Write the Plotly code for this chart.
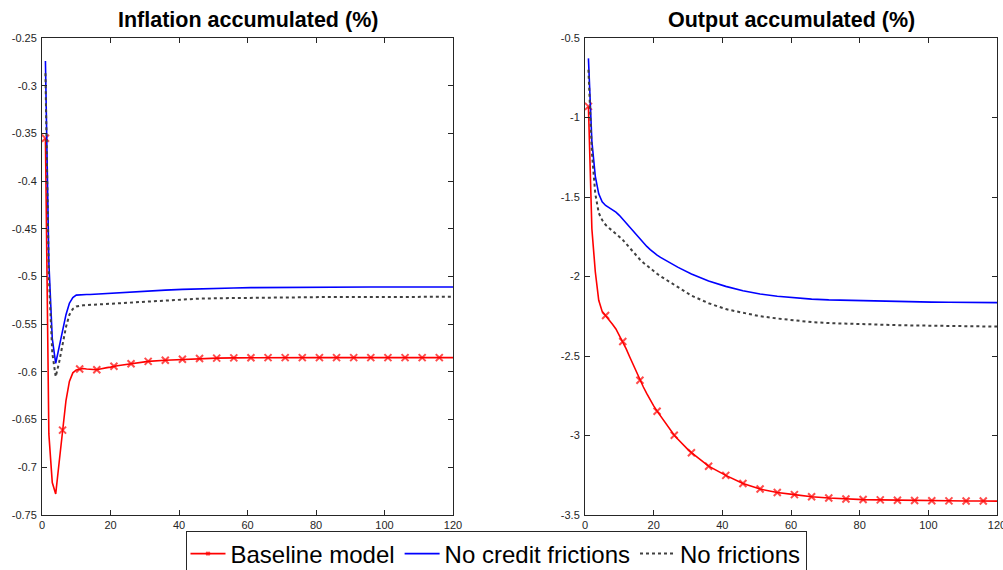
import plotly.graph_objects as go

periods = list(range(1, 31)) + list(range(31, 117, 5)) + [120]

infl_baseline = [-0.355, -0.665, -0.716, -0.728, -0.695, -0.661, -0.630, -0.610, -0.601, -0.598,
                 -0.597, -0.5965, -0.597, -0.5975, -0.5978, -0.5978, -0.597, -0.596, -0.5955, -0.595,
                 -0.594, -0.5935, -0.593, -0.5925, -0.592, -0.5915, -0.591, -0.5905, -0.590, -0.5895,
                 -0.589, -0.5878, -0.5868, -0.586, -0.5856, -0.5853, -0.5851, -0.585, -0.585, -0.585,
                 -0.585, -0.585, -0.585, -0.585, -0.585, -0.585, -0.585, -0.585, -0.585]
infl_nocredit = [-0.274, -0.485, -0.565, -0.591, -0.574, -0.556, -0.540, -0.528, -0.522, -0.5195,
                 -0.519, -0.5188, -0.5188, -0.5188, -0.5186, -0.5184, -0.518, -0.5177, -0.5173, -0.517,
                 -0.5168, -0.5166, -0.5164, -0.5162, -0.516, -0.5159, -0.5158, -0.5157, -0.5156, -0.5155,
                 -0.5153, -0.5143, -0.5135, -0.5128, -0.5123, -0.512, -0.5117, -0.5115, -0.5113, -0.5112,
                 -0.5111, -0.5111, -0.511, -0.511, -0.511, -0.511, -0.511, -0.511, -0.511]
infl_nofric = [-0.287, -0.50, -0.58, -0.605, -0.59, -0.571, -0.553, -0.540, -0.534, -0.5315,
               -0.5305, -0.5302, -0.530, -0.5298, -0.5296, -0.5294, -0.5292, -0.529, -0.5288, -0.5285,
               -0.5282, -0.528, -0.5278, -0.5276, -0.5274, -0.5272, -0.527, -0.5268, -0.5266, -0.5265,
               -0.5262, -0.525, -0.5238, -0.5232, -0.5228, -0.5225, -0.5222, -0.522, -0.5218, -0.5217,
               -0.5216, -0.5215, -0.5214, -0.5214, -0.5213, -0.5213, -0.5213, -0.5213, -0.5213]

out_baseline = [-0.93, -1.70, -1.97, -2.15, -2.22, -2.245, -2.27, -2.30, -2.33, -2.37,
                -2.409, -2.455, -2.505, -2.555, -2.605, -2.652, -2.695, -2.737, -2.777, -2.814,
                -2.847, -2.878, -2.910, -2.940, -2.970, -2.998, -3.022, -3.046, -3.068, -3.089,
                -3.108, -3.193, -3.251, -3.302, -3.337, -3.358, -3.372, -3.385, -3.393, -3.399,
                -3.403, -3.405, -3.407, -3.409, -3.41, -3.411, -3.412, -3.412, -3.413]
out_nocredit = [-0.628, -1.15, -1.37, -1.48, -1.53, -1.553, -1.567, -1.58, -1.595, -1.615,
                -1.64, -1.664, -1.69, -1.715, -1.74, -1.766, -1.789, -1.811, -1.831, -1.85,
                -1.866, -1.88, -1.893, -1.905, -1.918, -1.93, -1.941, -1.952, -1.963, -1.974,
                -1.984, -2.028, -2.062, -2.09, -2.11, -2.124, -2.134, -2.142, -2.147, -2.15,
                -2.153, -2.156, -2.158, -2.16, -2.161, -2.162, -2.163, -2.164, -2.164]
out_nofric = [-0.70, -1.22, -1.48, -1.60, -1.645, -1.675, -1.695, -1.712, -1.73, -1.75,
              -1.77, -1.795, -1.822, -1.848, -1.872, -1.893, -1.913, -1.932, -1.950, -1.967,
              -1.983, -1.998, -2.012, -2.026, -2.040, -2.053, -2.066, -2.08, -2.094, -2.107,
              -2.12, -2.168, -2.205, -2.228, -2.25, -2.264, -2.277, -2.287, -2.293, -2.297,
              -2.300, -2.303, -2.306, -2.308, -2.31, -2.312, -2.313, -2.314, -2.315]

series_names = ["Baseline model", "No credit frictions", "No frictions"]
titles = ["Inflation accumulated (%)", "Output accumulated (%)"]

x_ticks = [0, 20, 40, 60, 80, 100, 120]
infl_ticks = [-0.75, -0.7, -0.65, -0.6, -0.55, -0.5, -0.45, -0.4, -0.35, -0.3, -0.25]
infl_ticktext = ["-0.75", "-0.7", "-0.65", "-0.6", "-0.55", "-0.5", "-0.45", "-0.4", "-0.35", "-0.3", "-0.25"]
out_ticks = [-3.5, -3, -2.5, -2, -1.5, -1, -0.5]
out_ticktext = ["-3.5", "-3", "-2.5", "-2", "-1.5", "-1", "-0.5"]

marker_sizes = [7 if (t - 1) % 5 == 0 and t <= 116 else 0 for t in periods]

FONT = "Liberation Sans, Arial, sans-serif"
AXCOL = "#262626"

fig = go.Figure()

for i, (xa, ya, base, nocr, nofr) in enumerate([
        ("x", "y", infl_baseline, infl_nocredit, infl_nofric),
        ("x2", "y2", out_baseline, out_nocredit, out_nofric)]):
    show = (i == 0)
    fig.add_trace(go.Scatter(x=periods, y=base, xaxis=xa, yaxis=ya, mode="lines+markers",
                             name=series_names[0], showlegend=show, legendgroup="b",
                             line=dict(color="#ff0000", width=1.6),
                             marker=dict(symbol="x-thin", size=marker_sizes, color="#ff0000",
                                         line=dict(color="#ff0000", width=2))))
    fig.add_trace(go.Scatter(x=periods, y=nocr, xaxis=xa, yaxis=ya, mode="lines",
                             name=series_names[1], showlegend=show, legendgroup="n",
                             line=dict(color="#0000ff", width=1.6)))
    fig.add_trace(go.Scatter(x=periods, y=nofr, xaxis=xa, yaxis=ya, mode="lines",
                             name=series_names[2], showlegend=show, legendgroup="f",
                             line=dict(color="#404040", width=2, dash="dot")))

axis_common = dict(showline=True, linecolor=AXCOL, linewidth=1, mirror="ticks", ticks="inside",
                   ticklen=5, tickcolor=AXCOL, tickwidth=1, showgrid=False, zeroline=False,
                   automargin=False, ticklabeloverflow="allow",
                   tickfont=dict(family=FONT, size=11, color=AXCOL))

ytop = 1 - 38 / 570
ybot = 1 - 515 / 570
fig.update_layout(
    template="none",
    width=1003, height=570,
    margin=dict(l=0, r=0, t=0, b=0, pad=0, autoexpand=False),
    paper_bgcolor="white", plot_bgcolor="white",
    xaxis=dict(domain=[42 / 1003, 453 / 1003], range=[0, 120], tickvals=x_ticks, anchor="y", **axis_common),
    yaxis=dict(domain=[ybot, ytop], range=[-0.75, -0.25], tickvals=infl_ticks, ticktext=infl_ticktext,
               anchor="x", ticklabelstandoff=2, **axis_common),
    xaxis2=dict(domain=[585 / 1003, 997 / 1003], range=[0, 120], tickvals=x_ticks, anchor="y2", **axis_common),
    yaxis2=dict(domain=[ybot, ytop], range=[-3.5, -0.5], tickvals=out_ticks, ticktext=out_ticktext,
                anchor="x2", ticklabelstandoff=2, **axis_common),
    showlegend=True,
    legend=dict(orientation="h", x=496 / 1003, xanchor="center",
                y=1 - 554 / 570, yanchor="middle",
                bgcolor="white", bordercolor=AXCOL, borderwidth=1,
                font=dict(family=FONT, size=24, color="black"),
                itemwidth=35, tracegroupgap=0),
    annotations=[
        dict(text=titles[0], x=(42 + 453) / 2 / 1003, y=1 - 20 / 570, xref="paper", yref="paper",
             showarrow=False, xanchor="center", yanchor="middle",
             font=dict(family=FONT, size=21.5, color="black", weight="bold")),
        dict(text=titles[1], x=(585 + 997) / 2 / 1003, y=1 - 20 / 570, xref="paper", yref="paper",
             showarrow=False, xanchor="center", yanchor="middle",
             font=dict(family=FONT, size=21.5, color="black", weight="bold")),
    ],
)

fig.write_html("out.html")
